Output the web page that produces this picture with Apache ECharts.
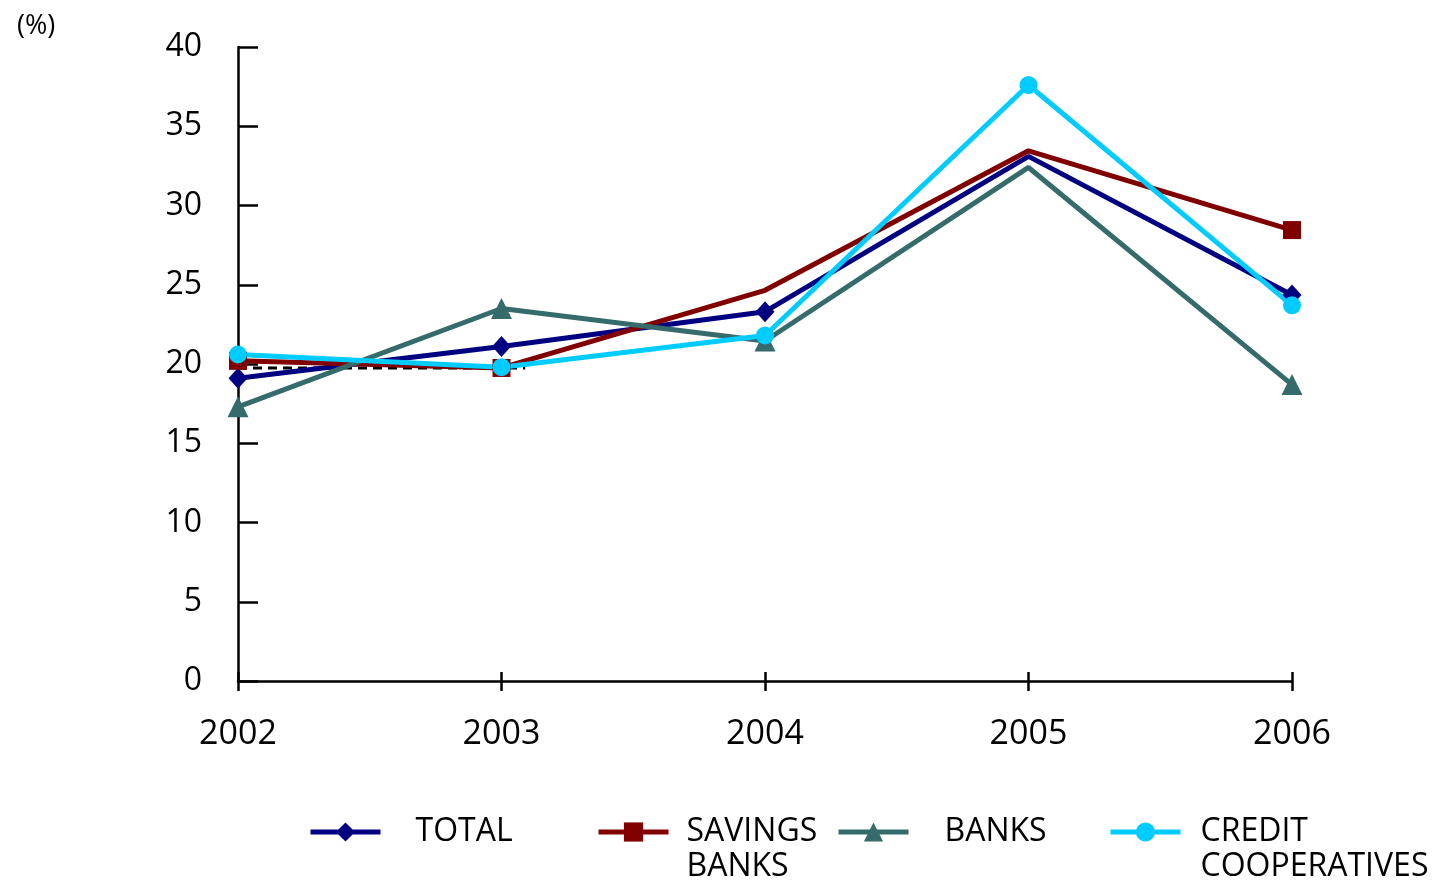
<!DOCTYPE html>
<html>
<head>
<meta charset="utf-8">
<script src="https://cdn.jsdelivr.net/npm/echarts@6/dist/echarts.min.js"></script>
<style>
  html, body { margin: 0; padding: 0; background: #fff; }
  #chart { width: 1437px; height: 885px; }
</style>
</head>
<body>
<div id="chart"></div>
<script>
// Growth rates by type of institution (%)
const years = ['2002', '2003', '2004', '2005', '2006'];
const total = [19.1, 21.1, 23.3, 33.1, 24.35];
const savingsBanks = [20.2, 19.75, 24.65, 33.45, 28.45];
const banks = [17.3, 23.5, 21.45, 32.4, 18.7];
const creditCoops = [20.6, 19.8, 21.8, 37.6, 23.7];
// Points plotted without a marker, per series (year indices)
const unmarked = {
  'TOTAL': [3],
  'SAVINGS BANKS': [2, 3],
  'BANKS': [3],
  'CREDIT COOPERATIVES': []
};
// Reference level drawn as a dashed segment over the first period
const refLevel = 19.75;
const refSpan = [2002, 2003.09];
const yTicks = { min: 0, max: 40, interval: 5 };

const FONT = '"Open Sans", "DejaVu Sans", sans-serif';

// Two-line entries start with an empty line so the first word sits beside the icon
const legendText = {
  'TOTAL': 'TOTAL',
  'SAVINGS BANKS': '\nSAVINGS\nBANKS',
  'BANKS': 'BANKS',
  'CREDIT COOPERATIVES': '\nCREDIT\nCOOPERATIVES'
};
const LINE_H = 35;
const ICON_Y = 832;

function legendFor(name, left, gap, twoLines) {
  return {
    data: [name],
    left: left,
    top: twoLines ? ICON_Y - LINE_H * 1.5 : ICON_Y - LINE_H / 2,
    padding: 0,
    itemWidth: 70,
    itemHeight: 24,
    selectedMode: false,
    lineStyle: { width: 5 },
    formatter: n => legendText[n],
    textStyle: {
      fontFamily: FONT,
      fontSize: 32,
      color: '#000',
      lineHeight: LINE_H,
      padding: [0, 0, 0, gap - 5]
    }
  };
}

function lineSeries(name, values, color, symbol, size) {
  const hide = unmarked[name];
  return {
    name: name,
    type: 'line',
    data: values.map((v, i) => hide.indexOf(i) >= 0 ? { value: v, symbol: 'none' } : v),
    xAxisIndex: 0,
    yAxisIndex: 0,
    symbol: symbol,
    symbolSize: size,
    showAllSymbol: true,
    lineStyle: { color: color, width: 5 },
    itemStyle: { color: color },
    emphasis: { disabled: true }
  };
}

const chart = echarts.init(document.getElementById('chart'));
chart.setOption({
  backgroundColor: '#fff',
  animation: false,
  title: {
    text: '(%)',
    left: 12,
    top: 8,
    textStyle: { fontFamily: FONT, fontSize: 27, fontWeight: 'normal', color: '#000' }
  },
  grid: { left: 238, right: 145, top: 47, bottom: 204, containLabel: false },
  legend: [
    legendFor('TOTAL', 308, 35, false),
    legendFor('SAVINGS BANKS', 596, 18, true),
    legendFor('BANKS', 836, 36, false),
    legendFor('CREDIT COOPERATIVES', 1108, 20, true)
  ],
  xAxis: [
    {
      type: 'category',
      data: years,
      boundaryGap: false,
      axisLine: { lineStyle: { color: '#000', width: 2.5 } },
      axisTick: { show: true, inside: false, length: 10, lineStyle: { color: '#000', width: 2.5 } },
      axisLabel: { fontFamily: FONT, fontSize: 34, color: '#000', margin: 36 },
      splitLine: { show: false }
    },
    {
      type: 'value',
      position: 'bottom',
      min: 2002,
      max: 2006,
      interval: 1,
      axisLine: { show: false },
      axisTick: { show: true, inside: true, length: 9, lineStyle: { color: '#000', width: 2.5 } },
      axisLabel: { show: false },
      splitLine: { show: false }
    }
  ],
  yAxis: {
    type: 'value',
    min: yTicks.min,
    max: yTicks.max,
    interval: yTicks.interval,
    axisLine: { show: true, lineStyle: { color: '#000', width: 2.5 } },
    axisTick: { show: true, inside: true, length: 20, lineStyle: { color: '#000', width: 2.5 } },
    axisLabel: { fontFamily: FONT, fontSize: 32, color: '#000', margin: 36 },
    splitLine: { show: false }
  },
  series: [
    {
      name: 'reference',
      type: 'line',
      xAxisIndex: 1,
      yAxisIndex: 0,
      data: refSpan.map(x => [x, refLevel]),
      symbol: 'none',
      lineStyle: { color: '#000', width: 3, type: [9, 6] },
      emphasis: { disabled: true },
      z: 1
    },
    lineSeries('TOTAL', total, '#000080', 'diamond', [19, 21]),
    lineSeries('SAVINGS BANKS', savingsBanks, '#800000', 'rect', 18),
    lineSeries('BANKS', banks, '#356b6b', 'triangle', [21, 21]),
    lineSeries('CREDIT COOPERATIVES', creditCoops, '#00ccff', 'circle', 18)
  ]
});
</script>
</body>
</html>
